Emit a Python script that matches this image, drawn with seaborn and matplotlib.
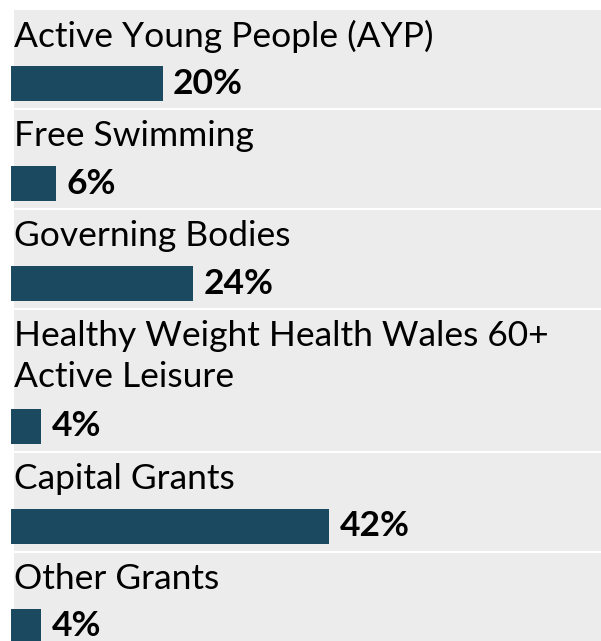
import matplotlib
matplotlib.use("Agg")
import matplotlib.pyplot as plt
import matplotlib.transforms as mtransforms
from matplotlib.patches import Rectangle
import seaborn as sns

# Funding share by programme
categories = [
    "Active Young People (AYP)",
    "Free Swimming",
    "Governing Bodies",
    "Healthy Weight Health Wales 60+\nActive Leisure",
    "Capital Grants",
    "Other Grants",
]
shares = [20, 6, 24, 4, 42, 4]
value_labels = [f"{v}%" for v in shares]

BAR_COLOR = "#1b4a60"
BAND_COLOR = "#ececec"
FONT = ["Lato", "DejaVu Sans"]

sns.set_theme(style="white")
plt.rcParams["font.family"] = FONT

W, H = 601, 641
DPI = 100
fig = plt.figure(figsize=(W / DPI, H / DPI), dpi=DPI)
fig.patch.set_facecolor("white")

left_px = 11
px_per_pct = 7.58
bar_px = 35
line_px = 43
base_band = 98
gap = 2
bar_width = 0.8
unit_px = bar_px / bar_width

top = 10
for cat, val, lab in zip(categories, shares, value_labels):
    n_lines = cat.count("\n") + 1
    h = base_band + line_px * (n_lines - 1)
    ax = fig.add_axes([left_px / W, (H - top - h) / H, (W - left_px) / W, h / H])
    ax.set_facecolor("none")

    # grey band behind each row, inset a few pixels from the bar start
    band_tr = mtransforms.offset_copy(ax.transAxes, fig=fig, x=3, y=0, units="dots")
    ax.add_patch(Rectangle((0, 0), 1, 1, transform=band_tr, facecolor=BAND_COLOR,
                           edgecolor="none", zorder=0, clip_on=False))

    sns.barplot(x=[val], y=[cat], orient="h", color=BAR_COLOR, width=bar_width,
                saturation=1, linewidth=0, edgecolor="none", ax=ax, zorder=2)

    ybot = bar_width / 2 + 7 / unit_px
    ax.set_ylim(ybot, ybot - h / unit_px)
    ax.set_xlim(0, (W - left_px) / px_per_pct)

    ax.bar_label(ax.containers[0], labels=[lab], padding=7.5, fontsize=25.5,
                 fontweight="bold", family=FONT, color="black")

    ax.annotate(cat, xy=(0, 1), xycoords="axes fraction", xytext=(3, -10),
                textcoords="offset pixels", ha="left", va="top", fontsize=25.5,
                family=FONT, color="black", linespacing=1.35)

    ax.set_xticks([])
    ax.set_yticks([])
    ax.set_xlabel("")
    ax.set_ylabel("")
    for s in ax.spines.values():
        s.set_visible(False)

    top += h + gap

fig.savefig("out.png", dpi=DPI, facecolor="white")
